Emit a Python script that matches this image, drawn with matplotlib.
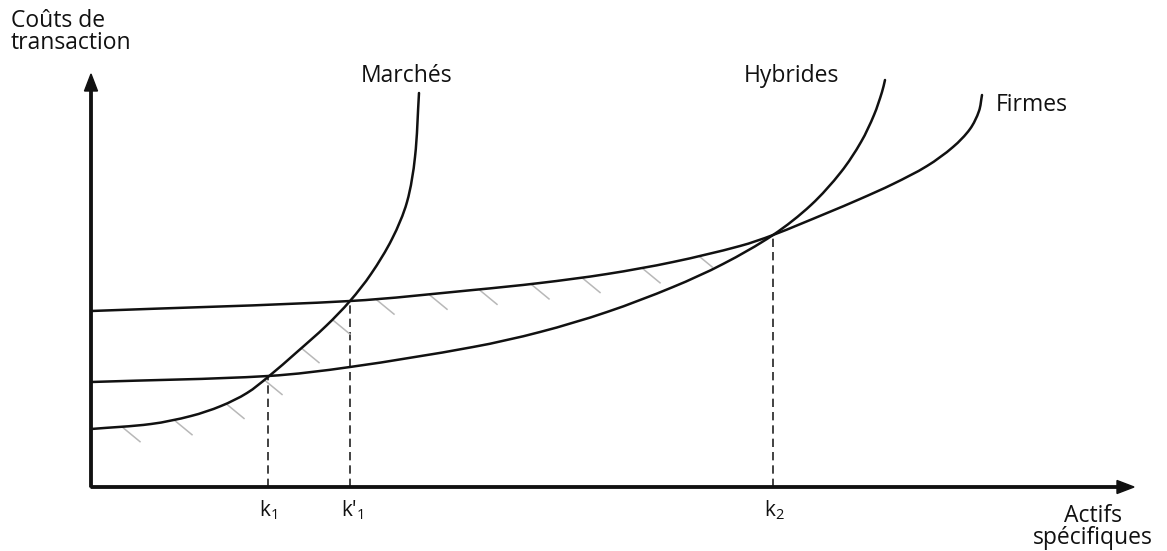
import matplotlib

matplotlib.use("Agg")

import matplotlib.pyplot as plt
import numpy as np
from matplotlib.patches import FancyArrow, PathPatch
from matplotlib.path import Path

# Curves read in axis units (origin at the corner of the two axes)
MARCHES_X = [0, 60, 100, 130, 156, 177, 206, 235, 259, 280, 301, 316, 324, 328]
MARCHES_Y = [58, 63, 71, 81, 94, 110, 135, 161, 186, 213, 248, 285, 330, 394]
HYBRIDES_X = [0, 177, 259, 382, 449, 516, 582, 632, 682, 720, 750, 770, 783, 791, 794]
HYBRIDES_Y = [105, 111, 120, 140, 155, 175, 200, 223, 252, 282, 315, 345, 372, 395, 407]
FIRMES_X = [0, 259, 382, 449, 516, 582, 649, 682, 736, 769, 802, 836, 862, 879, 888, 891]
FIRMES_Y = [176, 186, 197, 204, 213, 225, 241, 252, 274, 288, 303, 321, 340, 358, 376, 392]

# Thresholds on the asset-specificity axis and where the curves cross
K_LABELS = ["k$_1$", "k'$_1$", "k$_2$"]
K_X = [177, 259, 682]
K_Y = [111, 186, 252]

# Feet of the hatch marks along the efficient frontier
HATCH_MARCHES_X = [32, 84, 136, 174, 211, 242]
HATCH_FIRMES_X = [286, 339, 389, 441, 492, 552, 609, 716, 761, 804, 844, 877]

X_END = 1043
Y_END = 413

plt.rcParams["font.family"] = ["Open Sans", "DejaVu Sans"]
plt.rcParams["mathtext.fontset"] = "custom"
plt.rcParams["mathtext.rm"] = "Open Sans"
plt.rcParams["mathtext.default"] = "regular"

INK = "#111111"


def smooth_path(xs, ys):
    # chord-length Hermite spline through the read points, as cubic Beziers
    pts = np.column_stack([xs, ys]).astype(float)
    t = np.concatenate([[0], np.cumsum(np.hypot(*np.diff(pts, axis=0).T))])
    tang = np.empty_like(pts)
    tang[1:-1] = (pts[2:] - pts[:-2]) / (t[2:] - t[:-2])[:, None]
    tang[0] = (pts[1] - pts[0]) / (t[1] - t[0])
    tang[-1] = (pts[-1] - pts[-2]) / (t[-1] - t[-2])
    verts = [pts[0]]
    codes = [Path.MOVETO]
    for i in range(len(pts) - 1):
        h = (t[i + 1] - t[i]) / 3
        verts += [pts[i] + tang[i] * h, pts[i + 1] - tang[i + 1] * h, pts[i + 1]]
        codes += [Path.CURVE4] * 3
    return Path(verts, codes)


def flatten(path):
    poly = path.to_polygons(closed_only=False)[0]
    return poly[:, 0], poly[:, 1]


fig = plt.figure(figsize=(11.67, 5.51), dpi=100)
ax = fig.add_axes([0, 0, 1, 1])
ax.set_xlim(-91, 1167 - 91)
ax.set_ylim(-64, 487)
ax.axis("off")

curves = {}
for name, xs, ys in [
    ("Marchés", MARCHES_X, MARCHES_Y),
    ("Hybrides", HYBRIDES_X, HYBRIDES_Y),
    ("Firmes", FIRMES_X, FIRMES_Y),
]:
    path = smooth_path(xs, ys)
    ax.add_patch(PathPatch(path, fill=False, lw=1.8, ec=INK, capstyle="round", zorder=3))
    curves[name] = flatten(path)


def hatch(curve, feet, other=None):
    cx, cy = curve
    for x0 in feet:
        y0 = np.interp(x0, cx, cy)
        s = np.linspace(0, 1, 40)
        hx = x0 + 17 * s
        hy = y0 - 1 - 14 * s
        if other is not None:
            ox, oy = other
            keep = hy > np.interp(hx, ox, oy) + 2
            hx, hy = hx[keep], hy[keep]
        if len(hx) > 1:
            ax.plot(hx, hy, color="#b8b8b8", lw=1.1, zorder=2)


hatch(curves["Marchés"], HATCH_MARCHES_X)
hatch(curves["Firmes"], HATCH_FIRMES_X, curves["Hybrides"])

for label, kx, ky in zip(K_LABELS, K_X, K_Y):
    ax.plot([kx, kx], [0, ky], color="#222222", lw=1.2, ls=(0, (5, 3)), zorder=1)
    ax.text(kx - 9, -23, label, ha="left", va="center", fontsize=15, color=INK)

# axes with arrowheads
ax.add_patch(FancyArrow(0, 0, X_END, 0, width=2.4, head_width=13, head_length=17,
                        length_includes_head=True, color=INK, zorder=4))
ax.add_patch(FancyArrow(0, 0, 0, Y_END, width=2.4, head_width=13, head_length=17,
                        length_includes_head=True, color=INK, zorder=4))

ax.text(-80, 478, "Coûts de\ntransaction", ha="left", va="top", fontsize=16.5,
        color=INK, linespacing=0.9)
ax.text(1002, -40, "Actifs\nspécifiques", ha="center", va="center", fontsize=16.5,
        color=INK, linespacing=0.9)
ax.text(270, 411, "Marchés", ha="left", va="center", fontsize=16.5, color=INK)
ax.text(653, 411, "Hybrides", ha="left", va="center", fontsize=16.5, color=INK)
ax.text(905, 382, "Firmes", ha="left", va="center", fontsize=16.5, color=INK)

fig.savefig("out.png", dpi=100, facecolor="white")
plt.close(fig)
